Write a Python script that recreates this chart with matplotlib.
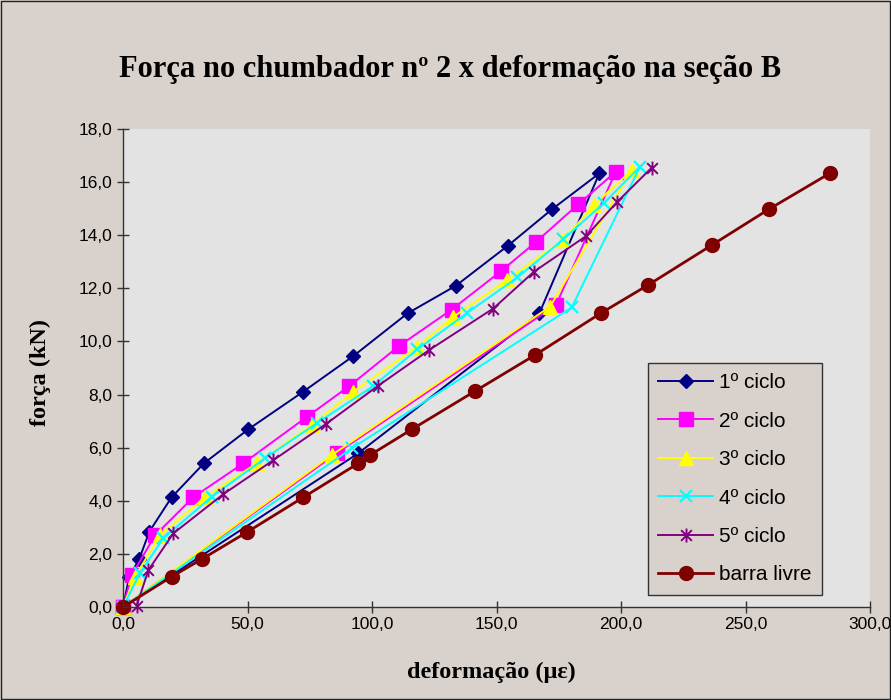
import matplotlib
matplotlib.use("Agg")
import matplotlib.pyplot as plt
from matplotlib.path import Path
from matplotlib.patches import Rectangle
from matplotlib.ticker import FuncFormatter, MultipleLocator

# deformação (micro-strain) x força (kN)
c1_x = [0, 2.5, 6.5, 10.6, 19.5, 32.5, 50.3, 72.4, 92.5, 114.3, 133.7, 154.5, 172.2, 191.3, 167.2, 94.5, 0]
c1_y = [0, 1.14, 1.8, 2.84, 4.13, 5.41, 6.69, 8.11, 9.45, 11.06, 12.1, 13.6, 14.97, 16.33, 11.06, 5.79, 0]

c2_x = [0, 3.5, 12.9, 28.2, 48.3, 74.0, 90.9, 111.0, 132.0, 152.0, 165.9, 182.9, 197.9, 173.9, 85.8, 0]
c2_y = [0, 1.2, 2.7, 4.13, 5.41, 7.17, 8.32, 9.84, 11.2, 12.66, 13.75, 15.17, 16.39, 11.37, 5.79, 0]

c3_x = [0, 4.8, 14.9, 32.9, 53.7, 75.8, 92.5, 118.2, 132.7, 154.1, 176.8, 189.2, 204.3, 171.5, 83.8, 0]
c3_y = [0, 1.14, 2.71, 4.13, 5.41, 6.85, 8.11, 9.8, 10.93, 12.3, 13.82, 15.14, 16.45, 11.31, 5.72, 0]

c4_x = [0, 6.8, 16.2, 35.6, 57.0, 77.8, 100.5, 118.2, 138.0, 158.4, 176.8, 193.2, 207.6, 180.2, 91.8, 0]
c4_y = [0, 1.27, 2.59, 4.15, 5.6, 6.92, 8.32, 9.7, 11.06, 12.41, 13.84, 15.22, 16.58, 11.28, 5.97, 0]

c5_x = [5.5, 10.2, 20.2, 40.3, 60.4, 81.5, 102.3, 123.0, 148.7, 165.1, 186.0, 198.5, 212.3]
c5_y = [0.05, 1.39, 2.77, 4.25, 5.53, 6.89, 8.32, 9.68, 11.24, 12.63, 13.97, 15.26, 16.54]

livre_x = [0, 19.5, 31.6, 49.8, 72.4, 94.5, 99.2, 116.0, 141.4, 165.5, 192.0, 210.8, 236.5, 259.4, 284.0]
livre_y = [0, 1.14, 1.8, 2.82, 4.13, 5.41, 5.72, 6.69, 8.13, 9.49, 11.07, 12.12, 13.63, 14.98, 16.34]

labels = ["1º ciclo", "2º ciclo", "3º ciclo", "4º ciclo", "5º ciclo", "barra livre"]

# excel style star: an x with a vertical bar through it
star = Path([(-1, -1), (1, 1), (-1, 1), (1, -1), (0, -1.3), (0, 1.3)],
            [Path.MOVETO, Path.LINETO, Path.MOVETO, Path.LINETO, Path.MOVETO, Path.LINETO])

outer_bg = "#D9D1CB"
plot_bg = "#E3E3E3"

fig = plt.figure(figsize=(8.91, 7.0), dpi=100, facecolor=outer_bg)
fig.patches.append(Rectangle((0.001, 0.001), 0.998, 0.998, transform=fig.transFigure,
                             fill=False, edgecolor="#222222", linewidth=1.0))

ax = fig.add_axes([123 / 891, 1 - 607 / 700, (870 - 123) / 891, (607 - 129) / 700])
ax.set_facecolor(plot_bg)

ax.plot(c1_x, c1_y, color="#000080", lw=1.4, marker="D", ms=7, label=labels[0], clip_on=False)
ax.plot(c2_x, c2_y, color="#FF00FF", lw=1.4, marker="s", ms=10, label=labels[1], clip_on=False)
ax.plot(c3_x, c3_y, color="#FFFF00", lw=1.4, marker="^", ms=10, label=labels[2], clip_on=False)
ax.plot(c4_x, c4_y, color="#00FFFF", lw=1.4, marker="x", ms=9, mew=1.6, label=labels[3], clip_on=False)
ax.plot(c5_x, c5_y, color="#800080", lw=1.4, marker=star, ms=10, mew=1.4, label=labels[4], clip_on=False)
ax.plot(livre_x, livre_y, color="#800000", lw=2.0, marker="o", ms=10, label=labels[5], clip_on=False)

ax.set_xlim(0, 300)
ax.set_ylim(0, 18)
ax.xaxis.set_major_locator(MultipleLocator(50))
ax.yaxis.set_major_locator(MultipleLocator(2))
fmt = FuncFormatter(lambda v, p: f"{v:.1f}".replace(".", ","))
ax.xaxis.set_major_formatter(fmt)
ax.yaxis.set_major_formatter(fmt)

for s in ["top", "right"]:
    ax.spines[s].set_visible(False)
for s in ["left", "bottom"]:
    ax.spines[s].set_color("#333333")
    ax.spines[s].set_linewidth(1.0)

ax.tick_params(direction="inout", length=9, width=1.0, color="#333333",
               labelsize=12.5, labelcolor="black", pad=3)
for t in ax.get_xticklabels() + ax.get_yticklabels():
    t.set_fontfamily("Liberation Sans")

fig.text(0.505, 1 - 70 / 700, "Força no chumbador nº 2 x deformação na seção B",
         ha="center", va="center", fontsize=22, fontweight="bold", family="Liberation Serif")
fig.text(40 / 891, 1 - 372 / 700, "força (kN)", rotation=90, ha="center", va="center",
         fontsize=17.5, fontweight="bold", family="Liberation Serif")
fig.text(491 / 891, 1 - 672 / 700, "deformação (με)", ha="center", va="center",
         fontsize=17.5, fontweight="bold", family="Liberation Serif")

leg = ax.legend(loc="upper left", bbox_to_anchor=(648 / 891, 1 - 363 / 700),
                bbox_transform=fig.transFigure, borderaxespad=0, frameon=True,
                fancybox=False, facecolor=outer_bg, edgecolor="#333333", framealpha=1,
                prop={"family": "Liberation Sans", "size": 15}, handlelength=2.6,
                labelspacing=0.93, borderpad=0.5, handletextpad=0.3)
leg.get_frame().set_linewidth(1.0)

fig.savefig("out.png", dpi=100, facecolor=outer_bg)
